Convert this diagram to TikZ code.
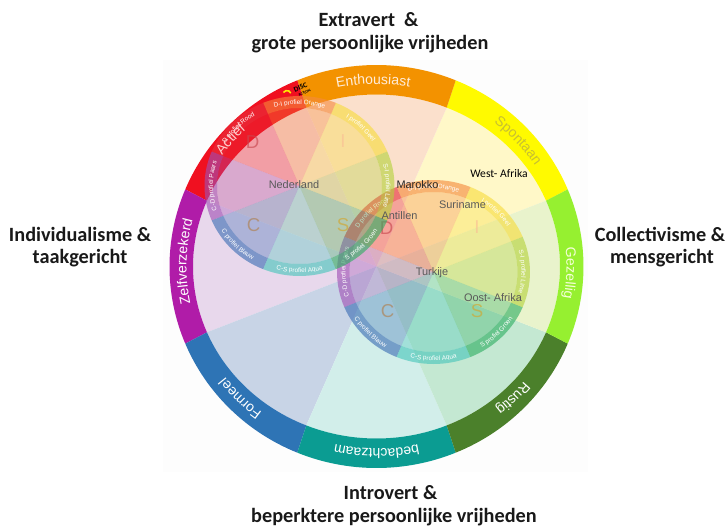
\documentclass[tikz,border=0pt]{standalone}
\usepackage{fontspec}
\setmainfont{Carlito}
\newfontfamily\wheelfont{Liberation Sans}
\usetikzlibrary{decorations.text}

\definecolor{peach}{HTML}{FBE0CC}
\definecolor{paleYellow}{HTML}{FFF8C8}
\definecolor{paleLime}{HTML}{E9F3CC}
\definecolor{paleGreen}{HTML}{C4E8D2}
\definecolor{paleAqua}{HTML}{D2EEEA}
\definecolor{paleBlue}{HTML}{C8D4E6}
\definecolor{palePurple}{HTML}{E8D8EC}
\definecolor{palePink}{HTML}{F8D8DC}
\definecolor{ringOrange}{HTML}{F39200}
\definecolor{ringYellow}{HTML}{FFFA00}
\definecolor{ringLime}{HTML}{96F030}
\definecolor{ringGreen}{HTML}{4B802B}
\definecolor{ringAqua}{HTML}{0B9C92}
\definecolor{ringBlue}{HTML}{2E74B5}
\definecolor{ringPurple}{HTML}{B01CA8}
\definecolor{ringRed}{HTML}{F01020}
\definecolor{discOrange}{HTML}{F58A3C}
\definecolor{discYellow}{HTML}{F7DC3C}
\definecolor{discLime}{HTML}{B4D23C}
\definecolor{discGreen}{HTML}{2FAE62}
\definecolor{discAqua}{HTML}{48C6BA}
\definecolor{discBlue}{HTML}{3C6EB4}
\definecolor{discPurple}{HTML}{A050B4}
\definecolor{discRed}{HTML}{E8303C}

\newcommand{\arcPart}[7]{\fill[#7] (#5:#1 and #2) arc[start angle=#5,end angle=#6,x radius=#1,y radius=#2] -- (#6:#3 and #4) arc[start angle=#6,end angle=#5,x radius=#3,y radius=#4] -- cycle;}
\newcommand{\arcLabel}[6]{\path[decorate,decoration={text along path,text align=center,text={|#1|#6}}] (#4:#2 and #3) arc[start angle=#4,end angle=#5,x radius=#2,y radius=#3];}
\newcommand{\ringFont}{\wheelfont\fontsize{10.5}{12}\selectfont\color{white}}
\newcommand{\discFont}{\wheelfont\fontsize{4.8}{5}\selectfont\color{white}}

\newcommand{\discWheel}[3]{
  \begin{scope}[shift={#1}]
    \foreach \a/\c in {22.5/discYellow,67.5/discOrange,112.5/discRed,157.5/discPurple,202.5/discBlue,247.5/discAqua,292.5/discGreen,337.5/discLime}{
      \pgfmathsetmacro{\b}{\a+45}
      \fill[\c,opacity=.34] (0,0) -- (\a:#2-12.5 and #3-12) arc[start angle=\a,end angle=\b,x radius=#2-12.5,y radius=#3-12] -- cycle;
      \arcPart{#2}{#3}{#2-12.5}{#3-12}{\a}{\b}{\c,opacity=.62}
    }
    \arcLabel{\discFont}{#2-8.5}{#3-8.5}{67.5}{22.5}{I profiel Geel}
    \arcLabel{\discFont}{#2-8.5}{#3-8.5}{112.5}{67.5}{D-I profiel Orange}
    \arcLabel{\discFont}{#2-8.5}{#3-8.5}{157.5}{112.5}{D profiel Rood}
    \arcLabel{\discFont}{#2-8.5}{#3-8.5}{202.5}{157.5}{C-D profiel Paars}
    \arcLabel{\discFont}{#2-3.5}{#3-3.5}{202.5}{247.5}{C profiel Blauw}
    \arcLabel{\discFont}{#2-3.5}{#3-3.5}{247.5}{292.5}{C-S profiel Aqua}
    \arcLabel{\discFont}{#2-3.5}{#3-3.5}{292.5}{337.5}{S profiel Groen}
    \arcLabel{\discFont}{#2-8.5}{#3-8.5}{22.5}{-22.5}{S-I profiel Lime}
    \node[discLetter,text=discRed!70!gray] at (-47,44) {D};
    \node[discLetter,text=discOrange!55!white] at (43.5,45) {I};
    \node[discLetter,text=brown!75!gray] at (-46,-39) {C};
    \node[discLetter,text=brown!70!yellow] at (43.5,-39) {S};
  \end{scope}
}

\begin{document}
\begin{tikzpicture}
  [x=.75pt,y=.75pt,
   headLabel/.style={font=\bfseries\fontsize{15.2}{17}\selectfont,text=black!90,inner sep=0pt},
   countryLabel/.style={font=\wheelfont\fontsize{8.2}{10}\selectfont,text=black!65,inner sep=0pt},
   discLetter/.style={font=\wheelfont\fontsize{14}{16}\selectfont,inner sep=0pt,opacity=.65}]
  \useasboundingbox (-376.5,-259.5) rectangle (351.5,266.5);
  \fill[black!.8] (-213,206.5) rectangle (211.5,-205.5);

  \foreach \a/\p/\c in {22.5/paleYellow/ringYellow,67.5/peach/ringOrange,112.5/palePink/ringRed,157.5/palePurple/ringPurple,202.5/paleBlue/ringBlue,247.5/paleAqua/ringAqua,292.5/paleGreen/ringGreen,337.5/paleLime/ringLime}{
    \pgfmathsetmacro{\b}{\a+45}
    \fill[\p] (0,0) -- (\a:183.5 and 172) arc[start angle=\a,end angle=\b,x radius=183.5,y radius=172] -- cycle;
    \arcPart{207}{201.5}{183.5}{172}{\a}{\b}{\c}
  }

  \arcLabel{\ringFont\color{orange!15!white}}{190}{182.5}{113.5}{68.5}{Enthousiast}
  \arcLabel{\ringFont\color{yellow!75!black}}{190}{182.5}{65}{20}{Spontaan}
  \arcLabel{\ringFont\color{lime!15!white}}{190}{182.5}{20.5}{-24.5}{Gezellig}
  \arcLabel{\ringFont}{190}{182.5}{-22.5}{-67.5}{Rustig}
  \arcLabel{\ringFont}{190}{182.5}{-67.5}{-112.5}{bedachtzaam}
  \arcLabel{\ringFont}{190}{182.5}{-112.5}{-157.5}{Formeel}
  \arcLabel{\ringFont}{190}{182.5}{-159}{-204}{Zelfverzekerd}

  \discWheel{(57,-5.5)}{96.5}{92}
  \discWheel{(-77,80.5)}{95}{90}
  \arcLabel{\ringFont\color{red!20!white}}{193}{185.5}{-199.5}{-244.5}{Actief}

  \draw[yellow!90!orange,line width=1.2pt] (-93,174) arc[start angle=150,end angle=20,radius=4];
  \node[font=\bfseries\fontsize{5.5}{6}\selectfont,inner sep=0pt,rotate=25] (discLogo) at (-76,179) {DISC};
  \node[font=\bfseries\fontsize{3}{4}\selectfont,inner sep=0pt,rotate=25] (discAction) at (-72,173.5) {ACTION};

  \node[countryLabel] (nederland) at (-82.5,81.5) {Nederland};
  \node[countryLabel,text=black!85] (marokko) at (41,81.5) {Marokko};
  \node[countryLabel] (antillen) at (23,51) {Antillen};
  \node[countryLabel] (suriname) at (86,61.5) {Suriname};
  \node[countryLabel,text=black,font=\fontsize{8.7}{10}\selectfont] (westAfrika) at (122.5,92.5) {West- Afrika};
  \node[countryLabel] (turkije) at (55.5,-6) {Turkije};
  \node[countryLabel] (oostAfrika) at (116.5,-31.5) {Oost- Afrika};

  \node[headLabel] (extravert) at (-8,246.5) {Extravert\ \ \&};
  \node[headLabel] (grote) at (-6.5,222.5) {grote persoonlijke vrijheden};
  \node[headLabel] (individualisme) at (-296.5,32.5) {Individualisme \&};
  \node[headLabel] (taakgericht) at (-296.5,8.5) {taakgericht};
  \node[headLabel] (collectivisme) at (283.5,32.5) {Collectivisme \&};
  \node[headLabel] (mensgericht) at (285.5,8.5) {mensgericht};
  \node[headLabel] (introvert) at (14,-226) {Introvert \&};
  \node[headLabel] (beperktere) at (17.5,-250.5) {beperktere persoonlijke vrijheden};
\end{tikzpicture}
\end{document}
